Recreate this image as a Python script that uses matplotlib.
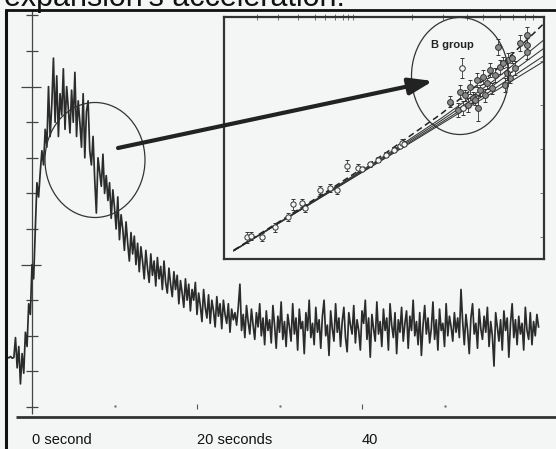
import numpy as np
import matplotlib.pyplot as plt
from matplotlib.patches import Ellipse

W, H = 556, 449
BG = "#f4f6f6"
INK = "#2b2b2b"

# light curve: counts per bin, one bin every 0.2 s starting at -3.0 s
T0, DT = -3.0, 0.2
counts = [
    140, 138, 142, 137, 139, 195, 110, 170, 65, 150,
    95, 210, 170, 290, 260, 400, 360, 500, 630, 590,
    660, 720, 680, 780, 730, 900, 760, 850, 980, 800,
    930, 760, 880, 820, 950, 780, 900, 840, 770, 890,
    800, 940, 760, 860, 800, 730, 880, 700, 830, 860,
    720, 680, 760, 640, 545, 700, 660, 620, 710, 600,
    650, 580, 630, 530, 610, 560, 500, 590, 470, 540,
    500, 440, 520, 460, 410, 490, 430, 480, 400, 460,
    380, 450, 410, 360, 440, 390, 350, 430, 370, 410,
    340, 420, 360, 395, 330, 410, 350, 320, 390, 345,
    310, 380, 330, 370, 290, 355, 320, 280, 360, 300,
    345, 270, 330, 300, 350, 260, 320, 285, 240, 330,
    280, 250, 315, 235, 300, 270, 225, 310, 255, 290,
    220, 300, 260, 235, 290, 210, 275, 245, 265, 230,
    280, 345, 215, 260, 195, 285, 240, 205, 275, 230,
    190, 265, 225, 290, 200, 250, 175, 270, 215, 245,
    180, 285, 230, 165, 255, 210, 295, 190, 240, 170,
    260, 225, 185, 290, 205, 250, 160, 275, 220, 240,
    150, 265, 215, 300, 195, 235, 175, 280, 210, 245,
    165, 255, 300, 200, 230, 145, 270, 220, 185, 290,
    210, 250, 170, 240, 280, 195, 155, 265, 230, 205,
    285, 180, 245, 215, 160, 270, 235, 300, 190, 250,
    140, 260, 220, 185, 295, 205, 240, 170, 275, 215,
    250, 160, 290, 230, 195, 265, 150, 245, 210, 280,
    185, 235, 270, 165, 255, 215, 300, 200, 240, 175,
    265, 145, 230, 285, 205, 250, 180, 220, 295, 190,
    245, 160, 275, 215, 235, 170, 290, 200, 255, 225,
    185, 265, 210, 250, 195, 330, 240, 175, 260, 215,
    150, 250, 290, 205, 235, 165, 275, 220, 190, 255,
    210, 280, 170, 240, 200, 115, 265, 225, 185, 245,
    160, 270, 215, 250, 140, 235, 290, 195, 245, 175,
    255, 205, 235, 160, 280, 215, 190, 265, 175, 240,
    200, 260, 225,
]
t = T0 + DT * np.arange(len(counts))

count_ticks = [0, 100, 200, 300, 400, 500, 600, 700, 800, 900, 1000, 1100]
long_ticks = [400, 900]
time_ticks = [20, 40]
time_dots = [10, 30, 50]
time_labels = ["0 second", "20 seconds", "40"]
label_pos = [0, 20, 40]

# inset: Hubble diagram, x = log cz, y = magnitude
model_x = [3.23, 3.48, 3.78, 4.08, 4.38, 4.68, 4.95]
model_solid = [
    [13.37, 14.62, 16.12, 17.62, 19.12, 20.62, 21.97],
    [13.37, 14.63, 16.14, 17.65, 19.19, 20.75, 22.22],
    [13.38, 14.64, 16.16, 17.70, 19.28, 20.94, 22.56],
    [13.39, 14.65, 16.19, 17.75, 19.38, 21.14, 22.94],
]
model_dash = [13.40, 14.68, 16.24, 17.85, 19.58, 21.54, 23.68]

near_x = [3.304, 3.326, 3.387, 3.459, 3.532, 3.559, 3.609, 3.626, 3.709, 3.765,
          3.804, 3.859, 3.920, 3.943, 3.987, 4.032, 4.076, 4.120, 4.154, 4.165, 4.176]
near_y = [14.00, 14.05, 14.00, 14.45, 14.91, 15.50, 15.55, 15.32, 16.14, 16.23,
          16.14, 17.23, 17.14, 17.08, 17.30, 17.52, 17.75, 17.97, 18.15, 18.27, 18.25]
near_err = [0.25, 0.2, 0.2, 0.2, 0.2, 0.25, 0.2, 0.2, 0.2, 0.2,
            0.2, 0.25, 0.2, 0.1, 0.1, 0.1, 0.1, 0.1, 0.1, 0.2, 0.1]

far_x = [4.432, 4.487, 4.515, 4.543, 4.559, 4.582, 4.598, 4.615, 4.637, 4.654,
         4.682, 4.698, 4.709, 4.726, 4.748, 4.754, 4.776, 4.793, 4.820, 4.859,
         4.859, 4.859, 4.532, 4.570, 4.626, 4.665, 4.737, 4.765, 4.476, 4.587]
far_y = [20.14, 20.59, 20.45, 20.82, 20.32, 21.14, 20.68, 21.27, 21.00, 21.59,
         21.36, 22.64, 21.73, 21.91, 21.45, 22.05, 22.14, 21.68, 22.82, 23.18,
         22.73, 22.41, 20.00, 20.23, 20.45, 20.77, 20.91, 21.23, 19.77, 19.86]
far_err = [0.25, 0.3, 0.25, 0.3, 0.25, 0.3, 0.25, 0.3, 0.25, 0.3,
           0.3, 0.35, 0.3, 0.25, 0.3, 0.3, 0.25, 0.3, 0.35, 0.35,
           0.3, 0.3, 0.3, 0.25, 0.3, 0.25, 0.3, 0.25, 0.3, 0.6]
open_far_x = [4.498, 4.504]
open_far_y = [21.68, 19.86]
open_far_err = [0.45, 0.3]

top_ticks = [3.359, 3.476, 3.587, 3.682, 3.737, 3.793, 3.837, 3.865, 3.893,
             4.220, 4.393, 4.526, 4.615, 4.709, 4.782, 4.848, 4.893]
right_ticks = [14, 16, 18, 20, 22]

plt.rcParams["font.family"] = ["Liberation Sans", "DejaVu Sans"]
fig = plt.figure(figsize=(W / 100, H / 100), dpi=100, facecolor=BG)

# main light curve, axes over the whole page
ax = fig.add_axes([0, 0, 1, 1])
ax.set_facecolor(BG)
ax.set_xlim(-32 / 8.25, (W - 32) / 8.25)
ax.set_ylim(-118.0, 1143.3)
ax.axis("off")

ax.plot(t, counts, color=INK, lw=1.25, zorder=3)
ax.vlines(0, -20, 1115, color="#444", lw=0.9)
short = [c for c in count_ticks if c not in long_ticks]
ax.hlines(short, -0.73, 0.73, color="#444", lw=0.9)
ax.hlines(long_ticks, -1.35, 1.1, color="#444", lw=0.9)
ax.vlines(time_ticks, -6, 8, color="#555", lw=0.8)
ax.plot(time_dots, [2] * len(time_dots), ".", color="#777", ms=1.5)
for p, lab in zip(label_pos, time_labels):
    ax.text(p, -93, lab, ha="left", va="center", fontsize=10.5, color="#111")

# inset Hubble diagram
ins = fig.add_axes([224 / W, (H - 259) / H, 320 / W, 242 / H])
ins.set_facecolor(BG)
ins.set_xlim(3.176, 3.176 + 320 / 180)
ins.set_ylim(13, 13 + 242 / 22)
for s in ins.spines.values():
    s.set_color("#333")
    s.set_linewidth(1.6)
ins.xaxis.set_ticks_position("top")
ins.set_xticks(top_ticks)
ins.set_xticklabels([])
ins.tick_params(axis="x", direction="inout", length=4, width=0.6, colors="#555")
ins.yaxis.set_ticks_position("right")
ins.set_yticks(right_ticks)
ins.set_yticklabels([])
ins.tick_params(axis="y", direction="in", length=3, width=0.6, colors="#666")

for m in model_solid:
    ins.plot(model_x, m, color="#333", lw=0.75)
ins.plot(model_x, model_dash, color="#222", lw=1.1, dashes=(4, 2.5))

ins.errorbar(near_x, near_y, yerr=near_err, fmt="o", ms=3.8, mfc=BG, mec="#333",
             mew=0.7, ecolor="#333", elinewidth=0.6, capsize=1.5, zorder=4)
ins.errorbar(far_x, far_y, yerr=far_err, fmt="o", ms=4.2, mfc="#8a8a8a", mec="#333",
             mew=0.7, ecolor="#333", elinewidth=0.6, capsize=1.5, zorder=4)
ins.errorbar(open_far_x, open_far_y, yerr=open_far_err, fmt="o", ms=4.0, mfc=BG,
             mec="#333", mew=0.7, ecolor="#333", elinewidth=0.6, capsize=1.5, zorder=4)
ins.text(0.7125, 0.884, "B group", transform=ins.transAxes, ha="center", va="center",
         fontsize=8, fontweight="bold", color="#222")

# page decorations in pixel units
deco = fig.add_axes([0, 0, 1, 1])
deco.set_xlim(0, W)
deco.set_ylim(H, 0)
deco.axis("off")
deco.patch.set_alpha(0)
deco.plot([5, W], [9.5, 9.5], color="#111", lw=2.0, solid_capstyle="butt")
deco.plot([6, 6], [9, H], color="#111", lw=2.2, solid_capstyle="butt")
deco.plot([16, W], [417, 417], color="#333", lw=2.0, solid_capstyle="butt")
deco.add_patch(Ellipse((95, 160), 100, 115, fill=False, ec="#333", lw=0.9))
deco.add_patch(Ellipse((460, 76), 97, 117, fill=False, ec="#333", lw=0.9))
deco.annotate("", xy=(433, 81), xytext=(118, 148),
              arrowprops=dict(arrowstyle="-|>,head_length=0.8,head_width=0.28",
                              lw=3, color="#222", mutation_scale=18,
                              shrinkA=0, shrinkB=0))

# title line, cut by the top edge of the page as in the scan
fig.text(4 / W, 1 - 6 / H, "expansion's acceleration.", ha="left", va="baseline",
         fontsize=22, color="#111")

fig.savefig("out.png", dpi=100, facecolor=BG)
